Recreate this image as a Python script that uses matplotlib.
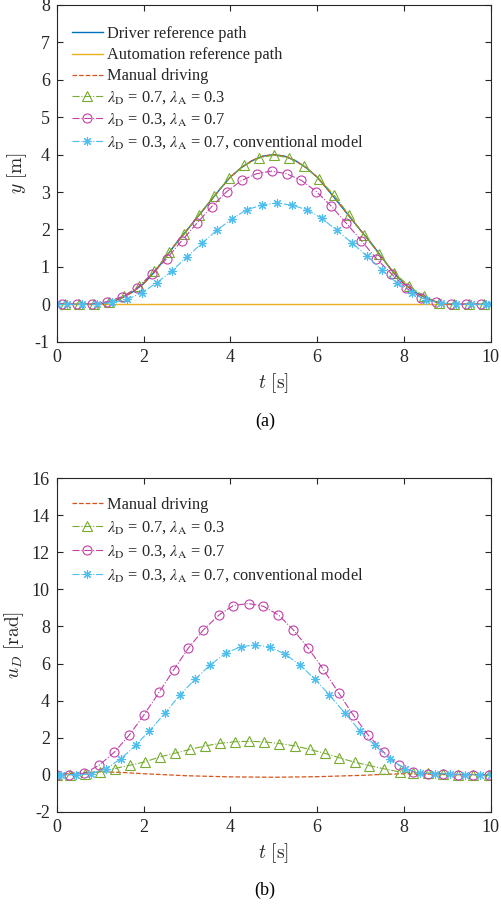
import numpy as np
import matplotlib
matplotlib.use('Agg')
import matplotlib.pyplot as plt
from matplotlib.font_manager import FontProperties

# ---- data ----
# (a) lateral position y [m]
t_ref = [0, 1.0, 1.25, 1.5, 1.75, 2.0, 2.25, 2.5, 2.75, 3.0, 3.25, 3.5, 3.75, 4.0, 4.25, 4.5, 4.75, 5.0,
         5.25, 5.5, 5.75, 6.0, 6.25, 6.5, 6.75, 7.0, 7.25, 7.5, 7.75, 8.0, 8.25, 8.5, 8.75, 9.0, 10]
y_driver = [0, 0, 0.06, 0.17, 0.33, 0.55, 0.86, 1.24, 1.63, 1.98, 2.34, 2.70, 3.06, 3.40, 3.65, 3.84, 3.96, 4.0,
            3.96, 3.84, 3.65, 3.40, 3.06, 2.70, 2.34, 1.98, 1.63, 1.24, 0.86, 0.55, 0.33, 0.17, 0.06, 0, 0]
y_manual = [0, 0, 0.06, 0.17, 0.33, 0.55, 0.86, 1.24, 1.63, 1.98, 2.34, 2.70, 3.06, 3.40, 3.65, 3.84, 3.96, 4.0,
            3.96, 3.84, 3.65, 3.40, 3.06, 2.70, 2.34, 1.98, 1.63, 1.24, 0.86, 0.55, 0.33, 0.17, 0.06, 0, 0]
t_auto = [0, 10]
y_auto = [0, 0]

t_tri_a = [0, 0.18, 0.525, 0.87, 1.215, 1.56, 1.905, 2.25, 2.595, 2.94, 3.285, 3.63, 3.975, 4.32, 4.665, 5.01,
           5.355, 5.7, 6.045, 6.39, 6.735, 7.08, 7.425, 7.77, 8.115, 8.46, 8.805, 9.15, 9.495, 9.84, 10]
y_tri_a = [0, 0, 0, 0, 0.05, 0.22, 0.49, 0.89, 1.39, 1.88, 2.39, 2.90, 3.38, 3.71, 3.91, 3.99,
           3.91, 3.69, 3.35, 2.92, 2.39, 1.86, 1.34, 0.85, 0.49, 0.22, 0.04, 0, 0, 0, 0]

t_cir_a = [0, 0.12, 0.465, 0.81, 1.155, 1.5, 1.845, 2.19, 2.535, 2.88, 3.225, 3.57, 3.915, 4.26, 4.605, 4.95,
           5.295, 5.64, 5.985, 6.33, 6.675, 7.02, 7.365, 7.71, 8.055, 8.4, 8.745, 9.09, 9.435, 9.78, 10]
y_cir_a = [0, 0.02, 0, 0.01, 0.07, 0.20, 0.43, 0.80, 1.22, 1.70, 2.16, 2.61, 3.01, 3.31, 3.49, 3.56,
           3.49, 3.31, 3.01, 2.62, 2.16, 1.70, 1.22, 0.82, 0.43, 0.18, 0.05, 0, 0, 0, 0]

t_ast_a = [0, 0.24, 0.585, 0.93, 1.275, 1.62, 1.965, 2.31, 2.655, 3.0, 3.345, 3.69, 4.035, 4.38, 4.725, 5.07,
           5.415, 5.76, 6.105, 6.45, 6.795, 7.14, 7.485, 7.83, 8.175, 8.52, 8.865, 9.21, 9.555, 9.9, 10]
y_ast_a = [0, 0, 0, 0, 0.05, 0.13, 0.31, 0.58, 0.89, 1.27, 1.63, 1.98, 2.28, 2.53, 2.65, 2.71,
           2.65, 2.53, 2.30, 1.98, 1.65, 1.30, 0.92, 0.58, 0.31, 0.11, 0.04, 0, 0, 0, 0]

# (b) steering input u_D [rad]
t_man_b = [0, 0.5, 1.0, 1.5, 2.0, 3.0, 4.0, 5.0, 6.0, 7.0, 7.5, 8.0, 8.5, 9.0, 10]
u_manual = [0, 0.1, 0.15, 0.12, 0.05, -0.06, -0.12, -0.14, -0.11, -0.04, 0.01, 0.05, 0.03, 0, 0]

t_tri_b = [0, 0.3, 0.65, 1.0, 1.34, 1.69, 2.03, 2.38, 2.73, 3.07, 3.42, 3.76, 4.11, 4.44, 4.78, 5.13,
           5.49, 5.84, 6.18, 6.51, 6.87, 7.20, 7.55, 7.90, 8.22, 8.56, 8.91, 9.25, 9.60, 9.95]
u_tri_b = [0, 0, 0.04, 0.15, 0.33, 0.51, 0.69, 0.96, 1.16, 1.36, 1.55, 1.69, 1.78, 1.80, 1.77, 1.68,
           1.55, 1.36, 1.15, 0.91, 0.67, 0.49, 0.31, 0.15, 0.09, 0.09, 0.05, 0, 0, 0]

t_cir_b = [0, 0.29, 0.63, 0.98, 1.33, 1.67, 2.01, 2.36, 2.70, 3.03, 3.38, 3.75, 4.07, 4.42, 4.76, 5.11,
           5.45, 5.80, 6.14, 6.50, 6.83, 7.18, 7.53, 7.89, 8.22, 8.56, 8.91, 9.25, 9.60, 9.95]
u_cir_b = [0, 0, 0.07, 0.51, 1.22, 2.13, 3.22, 4.45, 5.67, 6.82, 7.82, 8.64, 9.13, 9.24, 9.09, 8.62,
           7.82, 6.82, 5.69, 4.40, 3.22, 2.13, 1.22, 0.51, 0.15, 0.05, 0.04, 0, 0, 0]

t_ast_b = [0, 0.1, 0.44, 0.78, 1.13, 1.47, 1.82, 2.13, 2.50, 2.84, 3.19, 3.53, 3.89, 4.24, 4.57, 4.91,
           5.26, 5.61, 5.95, 6.28, 6.64, 6.99, 7.33, 7.68, 8.02, 8.37, 8.72, 9.06, 9.41, 9.76, 10]
u_ast_b = [0, 0, 0, 0.04, 0.31, 0.85, 1.58, 2.36, 3.33, 4.31, 5.15, 5.91, 6.55, 6.91, 7.0, 6.89,
           6.51, 5.91, 5.15, 4.31, 3.31, 2.36, 1.58, 0.85, 0.31, 0.09, 0.05, 0.04, 0, 0, 0]

lbl_tri = r'$\lambda_{\rm D}$ = 0.7, $\lambda_{\rm A}$ = 0.3'
lbl_cir = r'$\lambda_{\rm D}$ = 0.3, $\lambda_{\rm A}$ = 0.7'
lbl_ast = r'$\lambda_{\rm D}$ = 0.3, $\lambda_{\rm A}$ = 0.7, conventional model'

# MATLAB-like colours
c_blue = '#0072BD'
c_yel = '#EDB120'
c_red = '#D95319'
c_green = '#77AC30'
c_mag = '#C040A8'
c_cyan = '#4DBEEE'
c_txt = '#262626'

plt.rcParams['font.family'] = ['Liberation Serif', 'DejaVu Serif']
plt.rcParams['mathtext.fontset'] = 'stix'
plt.rcParams['axes.unicode_minus'] = False

fig = plt.figure(figsize=(5.01, 9.05), dpi=100)
ax1 = fig.add_axes([0.1132, 0.6224, 0.8663, 0.3721])
ax2 = fig.add_axes([0.1132, 0.1031, 0.8663, 0.3684])

mk = dict(markerfacecolor='none', markeredgewidth=0.8, markersize=6.5)
ast = (8, 2, 0)

# (a)
ax1.plot(t_ref, y_driver, '-', color=c_blue, lw=1.0, label='Driver reference path')
ax1.plot(t_auto, y_auto, '-', color=c_yel, lw=1.0, label='Automation reference path')
ax1.plot(t_ref, y_manual, '--', color=c_red, lw=0.9, label='Manual driving')
ax1.plot(t_tri_a, y_tri_a, '-.', color=c_green, lw=0.8, marker='^', markevery=slice(1, -1), label=lbl_tri, **mk)
ax1.plot(t_cir_a, y_cir_a, '-.', color=c_mag, lw=0.8, marker='o', markevery=slice(1, -1), label=lbl_cir, **mk)
ax1.plot(t_ast_a, y_ast_a, '-.', color=c_cyan, lw=0.8, marker=ast, label=lbl_ast, **mk)

# (b)
ax2.plot(t_man_b, u_manual, '--', color=c_red, lw=0.9, label='Manual driving')
ax2.plot(t_tri_b, u_tri_b, '-.', color=c_green, lw=0.8, marker='^', label=lbl_tri, **mk)
ax2.plot(t_cir_b, u_cir_b, '-.', color=c_mag, lw=0.8, marker='o', label=lbl_cir, **mk)
ax2.plot(t_ast_b, u_ast_b, '-.', color=c_cyan, lw=0.8, marker=ast, label=lbl_ast, **mk)

legprop = FontProperties(family='Liberation Serif', size=11.8, math_fontfamily='stix')

for ax, ylim, yticks, ylabel, caption, anchor, lsp in [
        (ax1, (-1, 8), np.arange(-1, 9, 1), r'$y\ [\mathrm{m}]$', '(a)', (0.035, 0.937), 0.31),
        (ax2, (-2, 16), np.arange(-2, 17, 2), r'$u_D\ [\mathrm{rad}]$', '(b)', (0.035, 0.945), 0.42)]:
    ax.set_xlim(0, 10)
    ax.set_ylim(*ylim)
    ax.set_xticks(np.arange(0, 11, 2))
    ax.set_yticks(yticks)
    ax.tick_params(direction='in', top=True, right=True, length=4.5, width=0.8,
                   labelsize=13, colors=c_txt, pad=5)
    for s in ax.spines.values():
        s.set_color(c_txt)
        s.set_linewidth(0.8)
    ax.set_xlabel(r'$t\ [\mathrm{s}]$', fontsize=14, math_fontfamily='cm', color=c_txt, labelpad=4)
    ax.set_ylabel(ylabel, fontsize=14, math_fontfamily='cm', color=c_txt, labelpad=4)
    leg = ax.legend(loc='upper left', bbox_to_anchor=anchor, frameon=False, prop=legprop,
                    handlelength=1.9, handletextpad=0.25, borderpad=0, borderaxespad=0,
                    labelspacing=lsp, labelcolor=c_txt)
    ax.text(0.48, -0.235, caption, transform=ax.transAxes, ha='center', va='center', fontsize=13)

fig.savefig('out.png', dpi=100)
